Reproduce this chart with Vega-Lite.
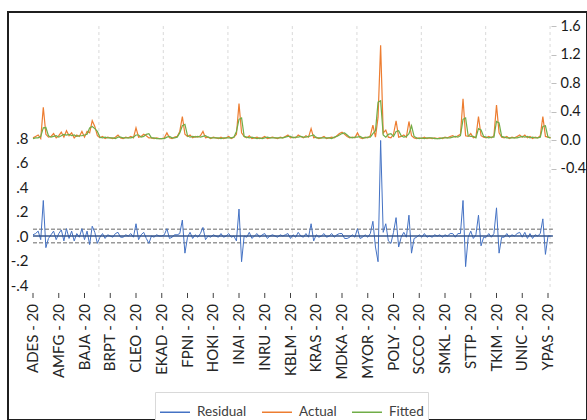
{
"$schema": "https://vega.github.io/schema/vega-lite/v6.json",
"width": 579, "height": 408,
"autosize": {"type": "none"},
"padding": {"left": 8, "top": 12, "right": 0, "bottom": 0},
"background": "white",
"config": {"font": "Lato", "view": {"stroke": "#1f1f1f", "strokeWidth": 2},
 "legend": {"title": null, "orient": "none", "legendX": 147, "legendY": 380, "direction": "horizontal", "symbolType": "stroke", "symbolSize": 900, "symbolStrokeWidth": 1.5, "labelFontSize": 13.5, "labelColor": "#404040", "labelOffset": 6, "columnPadding": 12, "padding": 4, "strokeColor": "#d9d9d9", "fillColor": "white"}},
"datasets": {
"main": [
{"obs":1,"Actual":0.03,"Fitted":0.02,"Residual":0.01},
{"obs":2,"Actual":0.05,"Fitted":0.03,"Residual":0.02},
{"obs":3,"Actual":0.07,"Fitted":0.03,"Residual":0.04},
{"obs":4,"Actual":0.02,"Fitted":0.05,"Residual":-0.03},
{"obs":5,"Actual":0.46,"Fitted":0.17,"Residual":0.29},
{"obs":6,"Actual":0.08,"Fitted":0.175,"Residual":-0.095},
{"obs":7,"Actual":0.04,"Fitted":0.06,"Residual":-0.02},
{"obs":8,"Actual":0.05,"Fitted":0.04,"Residual":0.01},
{"obs":9,"Actual":0.09,"Fitted":0.05,"Residual":0.04},
{"obs":10,"Actual":0.03,"Fitted":0.06,"Residual":-0.03},
{"obs":11,"Actual":0.06,"Fitted":0.04,"Residual":0.02},
{"obs":12,"Actual":0.11,"Fitted":0.06,"Residual":0.05},
{"obs":13,"Actual":0.04,"Fitted":0.08,"Residual":-0.04},
{"obs":14,"Actual":0.13,"Fitted":0.07,"Residual":0.06},
{"obs":15,"Actual":0.06,"Fitted":0.08,"Residual":-0.02},
{"obs":16,"Actual":0.10,"Fitted":0.06,"Residual":0.04},
{"obs":17,"Actual":0.03,"Fitted":0.07,"Residual":-0.04},
{"obs":18,"Actual":0.07,"Fitted":0.05,"Residual":0.02},
{"obs":19,"Actual":0.05,"Fitted":0.06,"Residual":-0.01},
{"obs":20,"Actual":0.12,"Fitted":0.06,"Residual":0.06},
{"obs":21,"Actual":0.04,"Fitted":0.07,"Residual":-0.03},
{"obs":22,"Actual":0.12,"Fitted":0.08,"Residual":0.04},
{"obs":23,"Actual":0.10,"Fitted":0.17,"Residual":-0.07},
{"obs":24,"Actual":0.27,"Fitted":0.19,"Residual":0.08},
{"obs":25,"Actual":0.19,"Fitted":0.16,"Residual":0.03},
{"obs":26,"Actual":0.06,"Fitted":0.12,"Residual":-0.06},
{"obs":27,"Actual":0.03,"Fitted":0.04,"Residual":-0.01},
{"obs":28,"Actual":0.05,"Fitted":0.03,"Residual":0.02},
{"obs":29,"Actual":0.02,"Fitted":0.04,"Residual":-0.02},
{"obs":30,"Actual":0.04,"Fitted":0.03,"Residual":0.01},
{"obs":31,"Actual":0.03,"Fitted":0.03,"Residual":0.0},
{"obs":32,"Actual":0.02,"Fitted":0.03,"Residual":-0.01},
{"obs":33,"Actual":0.04,"Fitted":0.02,"Residual":0.02},
{"obs":34,"Actual":0.07,"Fitted":0.04,"Residual":0.03},
{"obs":35,"Actual":0.03,"Fitted":0.04,"Residual":-0.01},
{"obs":36,"Actual":0.02,"Fitted":0.03,"Residual":-0.01},
{"obs":37,"Actual":0.04,"Fitted":0.03,"Residual":0.01},
{"obs":38,"Actual":0.03,"Fitted":0.03,"Residual":0.0},
{"obs":39,"Actual":0.05,"Fitted":0.03,"Residual":0.02},
{"obs":40,"Actual":0.03,"Fitted":0.04,"Residual":-0.01},
{"obs":41,"Actual":0.17,"Fitted":0.07,"Residual":0.10},
{"obs":42,"Actual":0.04,"Fitted":0.07,"Residual":-0.03},
{"obs":43,"Actual":0.05,"Fitted":0.04,"Residual":0.01},
{"obs":44,"Actual":0.08,"Fitted":0.05,"Residual":0.03},
{"obs":45,"Actual":0.06,"Fitted":0.08,"Residual":-0.02},
{"obs":46,"Actual":0.03,"Fitted":0.09,"Residual":-0.06},
{"obs":47,"Actual":0.03,"Fitted":0.03,"Residual":0.0},
{"obs":48,"Actual":0.02,"Fitted":0.03,"Residual":-0.01},
{"obs":49,"Actual":0.03,"Fitted":0.02,"Residual":0.01},
{"obs":50,"Actual":0.02,"Fitted":0.02,"Residual":0.0},
{"obs":51,"Actual":0.02,"Fitted":0.02,"Residual":0.0},
{"obs":52,"Actual":0.03,"Fitted":0.02,"Residual":0.01},
{"obs":53,"Actual":0.10,"Fitted":0.04,"Residual":0.06},
{"obs":54,"Actual":0.03,"Fitted":0.05,"Residual":-0.02},
{"obs":55,"Actual":0.02,"Fitted":0.03,"Residual":-0.01},
{"obs":56,"Actual":0.04,"Fitted":0.03,"Residual":0.01},
{"obs":57,"Actual":0.05,"Fitted":0.04,"Residual":0.01},
{"obs":58,"Actual":0.12,"Fitted":0.10,"Residual":0.02},
{"obs":59,"Actual":0.33,"Fitted":0.20,"Residual":0.13},
{"obs":60,"Actual":0.08,"Fitted":0.22,"Residual":-0.14},
{"obs":61,"Actual":0.05,"Fitted":0.06,"Residual":-0.01},
{"obs":62,"Actual":0.07,"Fitted":0.04,"Residual":0.03},
{"obs":63,"Actual":0.03,"Fitted":0.05,"Residual":-0.02},
{"obs":64,"Actual":0.05,"Fitted":0.04,"Residual":0.01},
{"obs":65,"Actual":0.04,"Fitted":0.05,"Residual":-0.01},
{"obs":66,"Actual":0.06,"Fitted":0.04,"Residual":0.02},
{"obs":67,"Actual":0.12,"Fitted":0.05,"Residual":0.07},
{"obs":68,"Actual":0.03,"Fitted":0.06,"Residual":-0.03},
{"obs":69,"Actual":0.04,"Fitted":0.04,"Residual":0.0},
{"obs":70,"Actual":0.02,"Fitted":0.03,"Residual":-0.01},
{"obs":71,"Actual":0.04,"Fitted":0.03,"Residual":0.01},
{"obs":72,"Actual":0.03,"Fitted":0.03,"Residual":0.0},
{"obs":73,"Actual":0.02,"Fitted":0.03,"Residual":-0.01},
{"obs":74,"Actual":0.04,"Fitted":0.02,"Residual":0.02},
{"obs":75,"Actual":0.02,"Fitted":0.03,"Residual":-0.01},
{"obs":76,"Actual":0.03,"Fitted":0.03,"Residual":0.0},
{"obs":77,"Actual":0.05,"Fitted":0.03,"Residual":0.02},
{"obs":78,"Actual":0.02,"Fitted":0.03,"Residual":-0.01},
{"obs":79,"Actual":0.04,"Fitted":0.04,"Residual":0.0},
{"obs":80,"Actual":0.08,"Fitted":0.12,"Residual":-0.04},
{"obs":81,"Actual":0.51,"Fitted":0.29,"Residual":0.22},
{"obs":82,"Actual":0.10,"Fitted":0.31,"Residual":-0.21},
{"obs":83,"Actual":0.05,"Fitted":0.05,"Residual":0.0},
{"obs":84,"Actual":0.03,"Fitted":0.04,"Residual":-0.01},
{"obs":85,"Actual":0.06,"Fitted":0.03,"Residual":0.03},
{"obs":86,"Actual":0.02,"Fitted":0.04,"Residual":-0.02},
{"obs":87,"Actual":0.03,"Fitted":0.03,"Residual":0.0},
{"obs":88,"Actual":0.04,"Fitted":0.02,"Residual":0.02},
{"obs":89,"Actual":0.02,"Fitted":0.03,"Residual":-0.01},
{"obs":90,"Actual":0.03,"Fitted":0.02,"Residual":0.01},
{"obs":91,"Actual":0.05,"Fitted":0.03,"Residual":0.02},
{"obs":92,"Actual":0.02,"Fitted":0.04,"Residual":-0.02},
{"obs":93,"Actual":0.03,"Fitted":0.03,"Residual":0.0},
{"obs":94,"Actual":0.04,"Fitted":0.03,"Residual":0.01},
{"obs":95,"Actual":0.03,"Fitted":0.03,"Residual":0.0},
{"obs":96,"Actual":0.02,"Fitted":0.03,"Residual":-0.01},
{"obs":97,"Actual":0.04,"Fitted":0.03,"Residual":0.01},
{"obs":98,"Actual":0.03,"Fitted":0.03,"Residual":0.0},
{"obs":99,"Actual":0.05,"Fitted":0.04,"Residual":0.01},
{"obs":100,"Actual":0.07,"Fitted":0.05,"Residual":0.02},
{"obs":101,"Actual":0.03,"Fitted":0.05,"Residual":-0.02},
{"obs":102,"Actual":0.04,"Fitted":0.03,"Residual":0.01},
{"obs":103,"Actual":0.03,"Fitted":0.04,"Residual":-0.01},
{"obs":104,"Actual":0.07,"Fitted":0.04,"Residual":0.03},
{"obs":105,"Actual":0.05,"Fitted":0.05,"Residual":0.0},
{"obs":106,"Actual":0.03,"Fitted":0.04,"Residual":-0.01},
{"obs":107,"Actual":0.06,"Fitted":0.04,"Residual":0.02},
{"obs":108,"Actual":0.04,"Fitted":0.05,"Residual":-0.01},
{"obs":109,"Actual":0.16,"Fitted":0.06,"Residual":0.10},
{"obs":110,"Actual":0.03,"Fitted":0.07,"Residual":-0.04},
{"obs":111,"Actual":0.04,"Fitted":0.03,"Residual":0.01},
{"obs":112,"Actual":0.02,"Fitted":0.03,"Residual":-0.01},
{"obs":113,"Actual":0.03,"Fitted":0.03,"Residual":0.0},
{"obs":114,"Actual":0.05,"Fitted":0.03,"Residual":0.02},
{"obs":115,"Actual":0.02,"Fitted":0.03,"Residual":-0.01},
{"obs":116,"Actual":0.03,"Fitted":0.03,"Residual":0.0},
{"obs":117,"Actual":0.04,"Fitted":0.02,"Residual":0.02},
{"obs":118,"Actual":0.03,"Fitted":0.04,"Residual":-0.01},
{"obs":119,"Actual":0.06,"Fitted":0.05,"Residual":0.01},
{"obs":120,"Actual":0.09,"Fitted":0.07,"Residual":0.02},
{"obs":121,"Actual":0.11,"Fitted":0.09,"Residual":0.02},
{"obs":122,"Actual":0.08,"Fitted":0.10,"Residual":-0.02},
{"obs":123,"Actual":0.05,"Fitted":0.07,"Residual":-0.02},
{"obs":124,"Actual":0.03,"Fitted":0.04,"Residual":-0.01},
{"obs":125,"Actual":0.04,"Fitted":0.03,"Residual":0.01},
{"obs":126,"Actual":0.03,"Fitted":0.04,"Residual":-0.01},
{"obs":127,"Actual":0.10,"Fitted":0.04,"Residual":0.06},
{"obs":128,"Actual":0.03,"Fitted":0.05,"Residual":-0.02},
{"obs":129,"Actual":0.02,"Fitted":0.03,"Residual":-0.01},
{"obs":130,"Actual":0.04,"Fitted":0.03,"Residual":0.01},
{"obs":131,"Actual":0.03,"Fitted":0.04,"Residual":-0.01},
{"obs":132,"Actual":0.06,"Fitted":0.04,"Residual":0.02},
{"obs":133,"Actual":0.21,"Fitted":0.09,"Residual":0.12},
{"obs":134,"Actual":0.04,"Fitted":0.13,"Residual":-0.09},
{"obs":135,"Actual":0.32,"Fitted":0.53,"Residual":-0.21},
{"obs":136,"Actual":1.33,"Fitted":0.55,"Residual":0.78},
{"obs":137,"Actual":0.10,"Fitted":0.07,"Residual":0.03},
{"obs":138,"Actual":0.14,"Fitted":0.04,"Residual":0.10},
{"obs":139,"Actual":0.04,"Fitted":0.08,"Residual":-0.04},
{"obs":140,"Actual":0.03,"Fitted":0.09,"Residual":-0.06},
{"obs":141,"Actual":0.08,"Fitted":0.05,"Residual":0.03},
{"obs":142,"Actual":0.27,"Fitted":0.12,"Residual":0.15},
{"obs":143,"Actual":0.04,"Fitted":0.13,"Residual":-0.09},
{"obs":144,"Actual":0.05,"Fitted":0.06,"Residual":-0.01},
{"obs":145,"Actual":0.07,"Fitted":0.04,"Residual":0.03},
{"obs":146,"Actual":0.04,"Fitted":0.05,"Residual":-0.01},
{"obs":147,"Actual":0.26,"Fitted":0.09,"Residual":0.17},
{"obs":148,"Actual":0.06,"Fitted":0.20,"Residual":-0.14},
{"obs":149,"Actual":0.03,"Fitted":0.05,"Residual":-0.02},
{"obs":150,"Actual":0.02,"Fitted":0.03,"Residual":-0.01},
{"obs":151,"Actual":0.03,"Fitted":0.02,"Residual":0.01},
{"obs":152,"Actual":0.02,"Fitted":0.03,"Residual":-0.01},
{"obs":153,"Actual":0.04,"Fitted":0.02,"Residual":0.02},
{"obs":154,"Actual":0.02,"Fitted":0.03,"Residual":-0.01},
{"obs":155,"Actual":0.03,"Fitted":0.03,"Residual":0.0},
{"obs":156,"Actual":0.02,"Fitted":0.03,"Residual":-0.01},
{"obs":157,"Actual":0.03,"Fitted":0.02,"Residual":0.01},
{"obs":158,"Actual":0.02,"Fitted":0.02,"Residual":0.0},
{"obs":159,"Actual":0.03,"Fitted":0.02,"Residual":0.01},
{"obs":160,"Actual":0.02,"Fitted":0.03,"Residual":-0.01},
{"obs":161,"Actual":0.04,"Fitted":0.03,"Residual":0.01},
{"obs":162,"Actual":0.03,"Fitted":0.03,"Residual":0.0},
{"obs":163,"Actual":0.05,"Fitted":0.03,"Residual":0.02},
{"obs":164,"Actual":0.06,"Fitted":0.04,"Residual":0.02},
{"obs":165,"Actual":0.04,"Fitted":0.05,"Residual":-0.01},
{"obs":166,"Actual":0.06,"Fitted":0.04,"Residual":0.02},
{"obs":167,"Actual":0.08,"Fitted":0.06,"Residual":0.02},
{"obs":168,"Actual":0.58,"Fitted":0.29,"Residual":0.29},
{"obs":169,"Actual":0.06,"Fitted":0.31,"Residual":-0.25},
{"obs":170,"Actual":0.05,"Fitted":0.06,"Residual":-0.01},
{"obs":171,"Actual":0.09,"Fitted":0.05,"Residual":0.04},
{"obs":172,"Actual":0.03,"Fitted":0.05,"Residual":-0.02},
{"obs":173,"Actual":0.04,"Fitted":0.03,"Residual":0.01},
{"obs":174,"Actual":0.33,"Fitted":0.16,"Residual":0.17},
{"obs":175,"Actual":0.06,"Fitted":0.14,"Residual":-0.08},
{"obs":176,"Actual":0.04,"Fitted":0.05,"Residual":-0.01},
{"obs":177,"Actual":0.03,"Fitted":0.04,"Residual":-0.01},
{"obs":178,"Actual":0.05,"Fitted":0.03,"Residual":0.02},
{"obs":179,"Actual":0.03,"Fitted":0.04,"Residual":-0.01},
{"obs":180,"Actual":0.06,"Fitted":0.04,"Residual":0.02},
{"obs":181,"Actual":0.49,"Fitted":0.26,"Residual":0.23},
{"obs":182,"Actual":0.10,"Fitted":0.24,"Residual":-0.14},
{"obs":183,"Actual":0.04,"Fitted":0.05,"Residual":-0.01},
{"obs":184,"Actual":0.03,"Fitted":0.04,"Residual":-0.01},
{"obs":185,"Actual":0.05,"Fitted":0.03,"Residual":0.02},
{"obs":186,"Actual":0.02,"Fitted":0.03,"Residual":-0.01},
{"obs":187,"Actual":0.04,"Fitted":0.03,"Residual":0.01},
{"obs":188,"Actual":0.03,"Fitted":0.03,"Residual":0.0},
{"obs":189,"Actual":0.05,"Fitted":0.03,"Residual":0.02},
{"obs":190,"Actual":0.07,"Fitted":0.04,"Residual":0.03},
{"obs":191,"Actual":0.04,"Fitted":0.05,"Residual":-0.01},
{"obs":192,"Actual":0.07,"Fitted":0.04,"Residual":0.03},
{"obs":193,"Actual":0.03,"Fitted":0.05,"Residual":-0.02},
{"obs":194,"Actual":0.05,"Fitted":0.03,"Residual":0.02},
{"obs":195,"Actual":0.02,"Fitted":0.04,"Residual":-0.02},
{"obs":196,"Actual":0.04,"Fitted":0.03,"Residual":0.01},
{"obs":197,"Actual":0.03,"Fitted":0.03,"Residual":0.0},
{"obs":198,"Actual":0.06,"Fitted":0.04,"Residual":0.02},
{"obs":199,"Actual":0.33,"Fitted":0.19,"Residual":0.14},
{"obs":200,"Actual":0.05,"Fitted":0.20,"Residual":-0.15},
{"obs":201,"Actual":0.04,"Fitted":0.04,"Residual":0.0},
{"obs":202,"Actual":0.03,"Fitted":0.03,"Residual":0.0}
],
"grid": [{"pos":26.6},{"pos":51.6},{"pos":76.7},{"pos":101.7},{"pos":126.8},{"pos":151.8},{"pos":176.8},{"pos":201.8}],
"bands": [{"level":0.055},{"level":-0.055}],
"zero": [{"level":0}],
"labels": [{"obs":1,"name":"ADES - 20"},{"obs":11,"name":"AMFG - 20"},{"obs":21,"name":"BAJA - 20"},{"obs":31,"name":"BRPT - 20"},{"obs":41,"name":"CLEO - 20"},{"obs":51,"name":"EKAD - 20"},{"obs":61,"name":"FPNI - 20"},{"obs":71,"name":"HOKI - 20"},{"obs":81,"name":"INAI - 20"},{"obs":91,"name":"INRU - 20"},{"obs":101,"name":"KBLM - 20"},{"obs":111,"name":"KRAS - 20"},{"obs":121,"name":"MDKA - 20"},{"obs":131,"name":"MYOR - 20"},{"obs":141,"name":"POLY - 20"},{"obs":151,"name":"SCCO - 20"},{"obs":161,"name":"SMKL - 20"},{"obs":171,"name":"STTP - 20"},{"obs":181,"name":"TKIM - 20"},{"obs":191,"name":"UNIC - 20"},{"obs":201,"name":"YPAS - 20"}]
},
"resolve": {"scale": {"y": "independent"}},
"layer": [
 {"data": {"name": "grid"},
  "mark": {"type": "rule", "stroke": "#d9d9d9", "strokeWidth": 1, "strokeDash": [3,3]},
  "encoding": {
   "x": {"field": "pos", "type": "quantitative", "scale": {"domain": [-8.709, 216.145], "nice": false, "zero": false}, "axis": null},
   "y": {"datum": 1.714, "type": "quantitative", "scale": {"domain": [-1.502, 1.8286], "nice": false, "zero": false}, "axis": null},
   "y2": {"datum": -0.416}
  }},
 {"data": {"name": "labels"},
  "mark": {"type": "rule", "stroke": "#404040", "strokeWidth": 1},
  "encoding": {
   "x": {"field": "obs", "type": "quantitative", "scale": {"domain": [-8.709, 216.145], "nice": false, "zero": false}, "axis": null},
   "y": {"datum": -0.465, "type": "quantitative", "scale": {"domain": [-1.502, 1.8286], "nice": false, "zero": false}, "axis": null},
   "y2": {"datum": -0.506}
  }},
 {"data": {"name": "labels"},
  "mark": {"type": "text", "angle": 270, "align": "right", "baseline": "middle", "fontSize": 15, "color": "#262626"},
  "encoding": {
   "x": {"field": "obs", "type": "quantitative", "scale": {"domain": [-8.709, 216.145], "nice": false, "zero": false}, "axis": null},
   "y": {"datum": -0.555, "type": "quantitative", "scale": {"domain": [-1.502, 1.8286], "nice": false, "zero": false}, "axis": null},
   "text": {"field": "name", "type": "nominal"}
  }},
 {"data": {"name": "bands"},
  "mark": {"type": "rule", "stroke": "#9a9a9a", "strokeWidth": 1.5, "strokeDash": [4,2]},
  "encoding": {
   "x": {"datum": 1, "type": "quantitative", "scale": {"domain": [-8.709, 216.145], "nice": false, "zero": false}, "axis": null},
   "x2": {"datum": 202.9},
   "y": {"field": "level", "type": "quantitative", "scale": {"domain": [-1.502, 1.8286], "nice": false, "zero": false}, "axis": null}
  }},
 {"data": {"name": "main"},
  "mark": {"type": "line", "strokeWidth": 1},
  "encoding": {
   "x": {"field": "obs", "type": "quantitative", "scale": {"domain": [-8.709, 216.145], "nice": false, "zero": false}, "axis": null},
   "y": {"field": "Residual", "type": "quantitative", "scale": {"domain": [-1.502, 1.8286], "nice": false, "zero": false},
     "axis": {"orient": "left", "values": [-0.4,-0.2,0,0.2,0.4,0.6,0.8], "labelExpr": "(datum.value < 0 ? '-' : '') + replace(format(abs(datum.value), '.1f'), '0.', '.')",
       "ticks": false, "domain": false, "grid": false, "labelPadding": 5, "offset": -25, "labelFontSize": 15, "labelColor": "#1a1a1a", "title": null}},
   "color": {"datum": "Residual", "type": "nominal",
     "scale": {"domain": ["Residual","Actual","Fitted"], "range": ["#4472C4","#ED7D31","#70AD47"]}}
  }},
 {"data": {"name": "zero"},
  "mark": {"type": "rule", "stroke": "#34558c", "strokeWidth": 1.5},
  "encoding": {
   "x": {"datum": 1, "type": "quantitative", "scale": {"domain": [-8.709, 216.145], "nice": false, "zero": false}, "axis": null},
   "x2": {"datum": 202.9},
   "y": {"field": "level", "type": "quantitative", "scale": {"domain": [-1.502, 1.8286], "nice": false, "zero": false}, "axis": null}
  }},
 {"data": {"name": "main"},
  "mark": {"type": "line", "strokeWidth": 1.2},
  "encoding": {
   "x": {"field": "obs", "type": "quantitative", "scale": {"domain": [-8.709, 216.145], "nice": false, "zero": false}, "axis": null},
   "y": {"field": "Actual", "type": "quantitative", "scale": {"domain": [-3.9298, 1.7965], "nice": false, "zero": false},
     "axis": {"orient": "right", "values": [-0.4,0,0.4,0.8,1.2,1.6], "labelExpr": "(datum.value < 0 ? '-' : '') + format(abs(datum.value), '.1f')", "ticks": true, "tickSize": 5, "tickColor": "#bfbfbf",
       "domain": false, "grid": false, "labelPadding": 4, "offset": -36, "labelFontSize": 14.5, "labelColor": "#1a1a1a", "title": null}},
   "color": {"datum": "Actual", "type": "nominal",
     "scale": {"domain": ["Residual","Actual","Fitted"], "range": ["#4472C4","#ED7D31","#70AD47"]}}
  }},
 {"data": {"name": "main"},
  "mark": {"type": "line", "strokeWidth": 1.2},
  "encoding": {
   "x": {"field": "obs", "type": "quantitative", "scale": {"domain": [-8.709, 216.145], "nice": false, "zero": false}, "axis": null},
   "y": {"field": "Fitted", "type": "quantitative", "scale": {"domain": [-3.9298, 1.7965], "nice": false, "zero": false}, "axis": null},
   "color": {"datum": "Fitted", "type": "nominal",
     "scale": {"domain": ["Residual","Actual","Fitted"], "range": ["#4472C4","#ED7D31","#70AD47"]}}
  }}
]
}
